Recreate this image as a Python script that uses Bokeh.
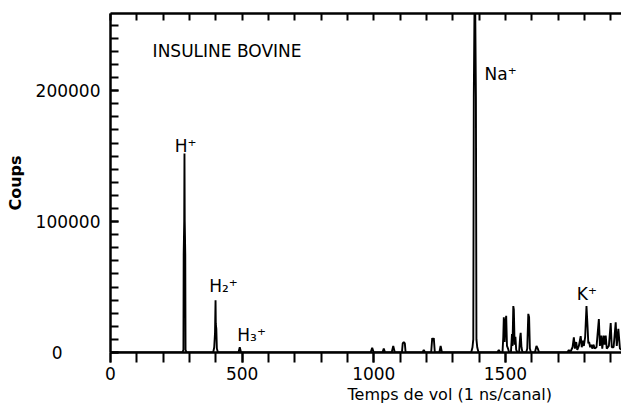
from bokeh.plotting import figure
from bokeh.models import Range1d, FixedTicker, LinearAxis, Label, BasicTickFormatter, Title
from bokeh.embed import file_html
from bokeh.resources import INLINE

# Spectrum trace: channel (1 ns/canal) and counts (Coups)
channel = [0,
           273, 277, 278, 280, 281, 282, 284, 285, 289,
           390, 394, 397, 399, 400, 402, 404, 408,
           486, 491, 496,
           988, 994, 1000, 1033, 1038, 1043, 1068, 1074, 1080,
           1107, 1110, 1114, 1118, 1121, 1185, 1190, 1195,
           1218, 1222, 1225, 1228, 1232, 1249, 1254, 1259,
           1370, 1375, 1378, 1380, 1384, 1388, 1390, 1393, 1398,
           1469, 1475, 1480, 1489, 1492, 1494, 1497, 1500, 1503, 1506, 1510, 1514,
           1521, 1525, 1527, 1530, 1532, 1535, 1538, 1541, 1546,
           1552, 1556, 1558, 1561, 1565, 1579, 1583, 1587, 1590, 1593, 1597,
           1612, 1618, 1623, 1628,
           1735, 1741, 1746, 1755, 1760, 1764, 1769, 1773, 1779, 1786, 1790,
           1794, 1798, 1803, 1808, 1812, 1815, 1818, 1822, 1826, 1830, 1835,
           1839, 1846, 1855, 1859, 1864, 1868, 1873, 1877, 1881, 1885, 1893,
           1900, 1904, 1911, 1919, 1923, 1929, 1935, 1941]
coups = [0,
         0, 2000, 75000, 100000, 152000, 100000, 75000, 2000, 0,
         0, 4000, 15000, 40000, 22000, 18000, 3000, 0,
         0, 4000, 0,
         0, 3500, 0, 0, 3000, 0, 0, 5000, 0,
         0, 7000, 8000, 7000, 0, 0, 2000, 0,
         0, 11000, 9000, 11000, 0, 0, 5000, 0,
         0, 4000, 10000, 195000, 300000, 195000, 10000, 4000, 0,
         0, 2000, 0, 0, 12000, 27000, 8000, 22000, 28000, 5000, 3000, 0,
         0, 14000, 5000, 35500, 33000, 6000, 12000, 2000, 0,
         0, 12000, 15000, 4000, 0, 0, 3000, 29500, 27000, 3000, 0,
         0, 5000, 3000, 0,
         0, 2000, 0, 4000, 11500, 3000, 8000, 2000, 5000, 12500, 4000,
         9000, 5000, 12000, 35500, 20000, 7000, 8000, 4000, 6000, 3000, 6000,
         3000, 4000, 25500, 5000, 13000, 3000, 13000, 6000, 13000, 3000, 5000,
         22500, 4000, 4000, 23000, 5000, 18000, 3000, 2000]

x_major = [0, 500, 1000, 1500]
x_minor = list(range(0, 2000, 100))
y_major = [0, 100000, 200000]
y_minor = list(range(0, 270000, 10000))

ion_labels = ["H\u207A", "H\u2082\u207A", "H\u2083\u207A", "Na\u207A", "K\u207A"]
ion_channels = [281, 399, 491, 1384, 1808]

FONT = "DejaVu Sans"

p = figure(width=621, height=407,
           x_range=Range1d(0, 1941), y_range=Range1d(0, 259000),
           output_backend="svg", toolbar_location=None,
           min_border_left=110, min_border_right=0,
           min_border_top=13, min_border_bottom=55)
p.outline_line_color = None
p.xgrid.visible = False
p.ygrid.visible = False

p.line(channel, coups, line_color="black", line_width=1.9)

xa = p.xaxis[0]
xa.ticker = FixedTicker(ticks=x_major, minor_ticks=x_minor)
xa.major_tick_in = 0
xa.major_tick_out = 10
xa.minor_tick_in = 0
xa.minor_tick_out = 10
xa.axis_line_width = 2.5
xa.major_tick_line_width = 2
xa.minor_tick_line_width = 2
xa.major_label_text_font = FONT
xa.major_label_text_font_size = "17px"
xa.major_label_text_color = "black"
xa.major_label_standoff = 4

ya = p.yaxis[0]
ya.ticker = FixedTicker(ticks=y_major, minor_ticks=y_minor)
ya.formatter = BasicTickFormatter(use_scientific=False)
# the "0" of the reference sits well left of the other labels
ya.major_label_overrides = {0: "0\u2007\u2007\u2007\u00a0"}
ya.major_tick_in = 8
ya.major_tick_out = 0
ya.minor_tick_in = 8
ya.minor_tick_out = 0
ya.axis_line_width = 2.5
ya.major_tick_line_width = 2
ya.minor_tick_line_width = 2
ya.major_label_text_font = FONT
ya.major_label_text_font_size = "17px"
ya.major_label_text_color = "black"
ya.major_label_standoff = 10
ya.axis_label = "Coups"
ya.axis_label_text_font = FONT
ya.axis_label_text_font_size = "16px"
ya.axis_label_text_font_style = "bold"
ya.axis_label_text_color = "black"
ya.axis_label_standoff = 8

top = LinearAxis(ticker=FixedTicker(ticks=[], minor_ticks=x_minor),
                 major_tick_in=0, major_tick_out=0, minor_tick_in=7, minor_tick_out=0,
                 minor_tick_line_width=2, axis_line_width=2.5,
                 major_label_standoff=0)
p.add_layout(top, "above")

xtitle = Title(text="Temps de vol (1 ns/canal)", align="left", offset=237,
               standoff=0, text_font=FONT, text_font_size="16px",
               text_font_style="normal", text_color="black")
p.add_layout(xtitle, "below")

common = dict(text_font=FONT, text_color="black")

p.add_layout(Label(x=160, y=230700, text="INSULINE BOVINE", text_align="left",
                   text_baseline="middle", text_font_size="17px", **common))

# ion labels, placed relative to their peaks
offsets = [(4, 158000, "center"), (30, 51000, "center"), (45, 13000, "center"),
           (37, 213000, "left"), (-37, 45000, "left")]
for lab, ch, (dx, yy, al) in zip(ion_labels, ion_channels, offsets):
    p.add_layout(Label(x=ch + dx, y=yy, text=lab, text_align=al,
                       text_baseline="alphabetic", text_font_size="17px", **common))

open("out.html", "w").write(file_html(p, INLINE))
